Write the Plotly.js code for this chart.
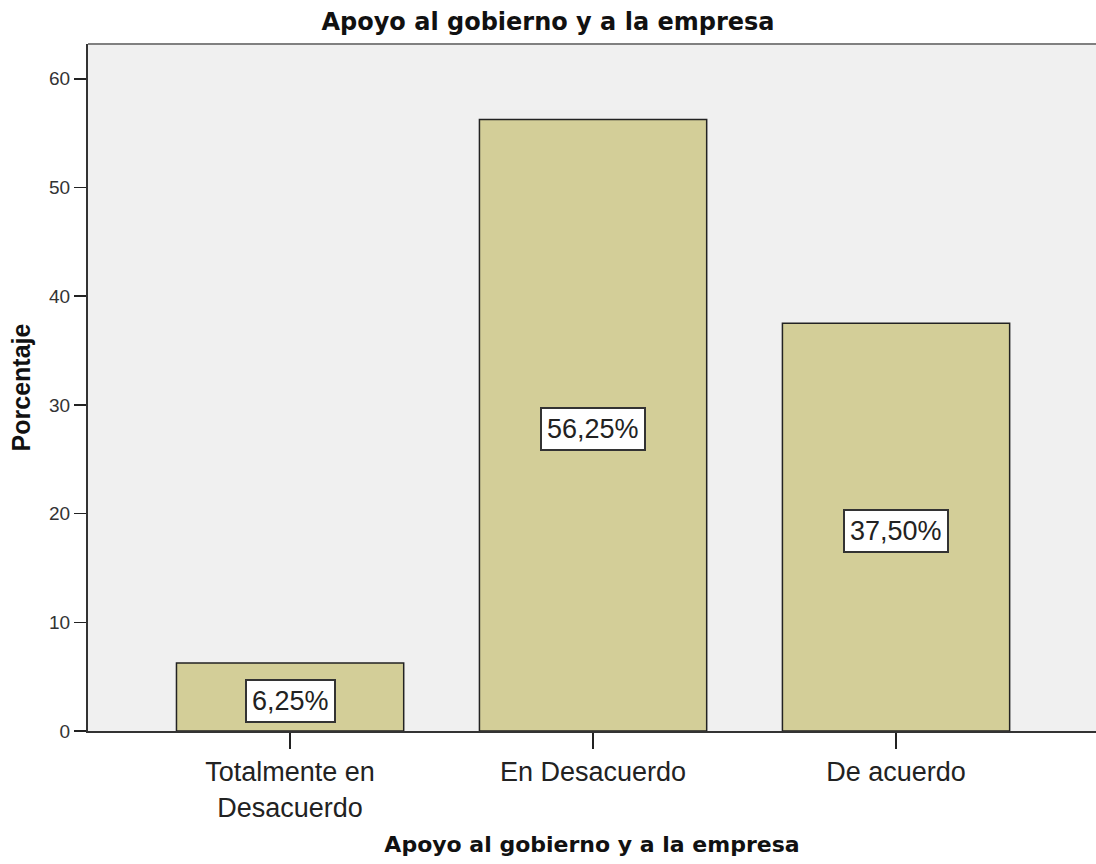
<!DOCTYPE html>
<html>
<head>
<meta charset="utf-8">
<script src="https://cdn.plot.ly/plotly-3.0.1.min.js"></script>
<style>html,body{margin:0;padding:0;background:#fff;}</style>
</head>
<body>
<div id="chart" style="width:1096px;height:864px;"></div>
<script>
const categories = ["Totalmente en<br>Desacuerdo", "En Desacuerdo", "De acuerdo"];
const percentages = [6.25, 56.25, 37.5];
const labels = ["6,25%", "56,25%", "37,50%"];
const yTicks = [0, 10, 20, 30, 40, 50, 60];
const chartTitle = "Apoyo al gobierno y a la empresa";
const xTitle = "Apoyo al gobierno y a la empresa";
const yTitle = "Porcentaje";

const trace = {
  type: "bar",
  x: [0, 1, 2],
  y: percentages,
  width: 0.75,
  marker: {color: "#d3ce98", line: {color: "#222222", width: 1.5}},
  hoverinfo: "none"
};

const annotations = percentages.map((v, i) => ({
  x: i, y: v / 2, xref: "x", yref: "y",
  text: labels[i], showarrow: false,
  yshift: -4,
  font: {family: "Liberation Sans, Arial, sans-serif", size: 27, color: "#222222"},
  bgcolor: "#ffffff", bordercolor: "#333333", borderwidth: 2, borderpad: 5
}));

const layout = {
  width: 1096, height: 864,
  margin: {l: 88, r: 0, t: 44, b: 133},
  paper_bgcolor: "#ffffff",
  plot_bgcolor: "#f0f0f0",
  showlegend: false,
  title: {
    text: chartTitle,
    font: {family: "DejaVu Sans, sans-serif", size: 24, color: "#111111", weight: "bold"},
    x: 0.5, xref: "container", xanchor: "center",
    y: 0.975, yref: "container", yanchor: "middle"
  },
  xaxis: {
    range: [-0.667, 2.66],
    tickmode: "array", tickvals: [0, 1, 2], ticktext: categories,
    ticks: "outside", ticklen: 16, tickwidth: 1.5, tickcolor: "#222222",
    tickfont: {family: "Liberation Sans, Arial, sans-serif", size: 27, color: "#222222"},
    showline: true, linecolor: "#333333", linewidth: 2,
    showgrid: false, zeroline: false, fixedrange: true, automargin: false,
    title: {text: xTitle, standoff: 15,
      font: {family: "DejaVu Sans, sans-serif", size: 22, color: "#111111", weight: "bold"}}
  },
  yaxis: {
    range: [0, 63.2],
    tickmode: "array", tickvals: yTicks,
    ticks: "outside", ticklen: 12, tickwidth: 1.5, tickcolor: "#222222",
    tickfont: {family: "Liberation Sans, Arial, sans-serif", size: 19, color: "#333333"},
    showline: true, linecolor: "#333333", linewidth: 2,
    showgrid: false, zeroline: false, fixedrange: true, automargin: false,
    title: {text: yTitle, standoff: 11,
      font: {family: "Liberation Sans, Arial, sans-serif", size: 25, color: "#111111", weight: "bold"}}
  },
  shapes: [{
    type: "line", xref: "paper", yref: "paper", x0: 0, x1: 1, y0: 1, y1: 1,
    line: {color: "#808080", width: 2}
  }],
  annotations: annotations
};

Plotly.newPlot("chart", [trace], layout, {displayModeBar: false, staticPlot: true});
</script>
</body>
</html>
